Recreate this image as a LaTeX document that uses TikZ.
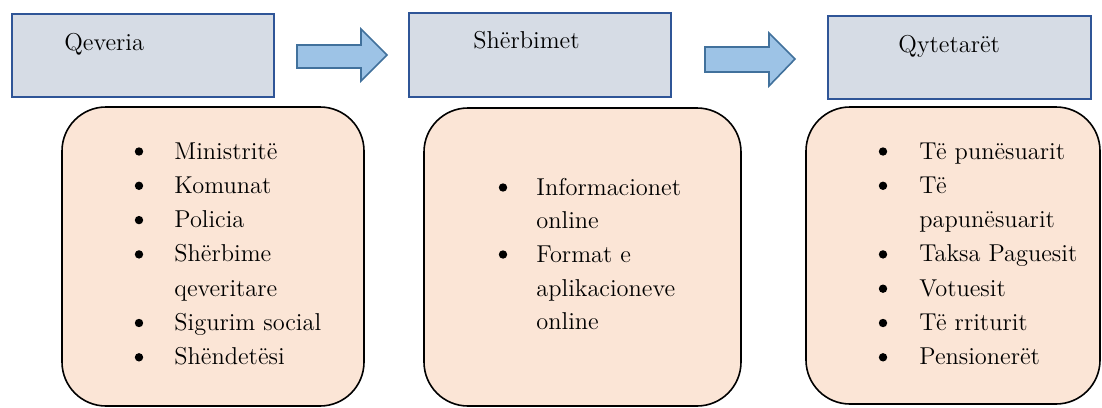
\documentclass[tikz,border=0pt]{standalone}
\definecolor{headfill}{HTML}{D6DCE5}
\definecolor{headline}{HTML}{2F5597}
\definecolor{arrowfill}{HTML}{9DC3E6}
\definecolor{arrowline}{HTML}{41719C}
\definecolor{groupfill}{HTML}{FBE5D6}
\begin{document}
\begin{tikzpicture}[x=0.5pt,y=-0.5pt,
  header/.style={draw=headline, fill=headfill, line width=1pt},
  group/.style={draw=black, fill=groupfill, line width=0.8pt, rounded corners=22pt},
  blockarrow/.style={draw=arrowline, fill=arrowfill, line width=0.8pt, line join=miter},
  lbl/.style={font=\rmfamily\fontsize{12.2}{15}\selectfont, inner sep=0pt, anchor=base west},
  dot/.style={circle, fill=black, inner sep=0pt, minimum size=4.2pt}]
\useasboundingbox (0,0) rectangle (1102,407);

% header boxes
\draw[header] (12,14) rectangle (274,97);
\draw[header] (409,13) rectangle (671,97);
\draw[header] (828,16) rectangle (1091,99);
\node[lbl] (hgov) at (64,50) {Qeveria};
\node[lbl] (hsrv) at (473,48) {Shërbimet};
\node[lbl] (hcit) at (898,52) {Qytetarët};

% block arrows between the headers
\draw[blockarrow] (297,45) -- (361,45) -- (361,29) -- (387,55) -- (361,81)
  -- (361,68) -- (297,68) -- cycle;
\draw[blockarrow] (705,47) -- (769,47) -- (769,33) -- (795,59) -- (769,86)
  -- (769,72) -- (705,72) -- cycle;

% rounded group boxes
\draw[group] (62,107) rectangle (364,406);
\draw[group] (424,108) rectangle (741,406);
\draw[group] (806,107) rectangle (1100,404);

% list entries: baseline / bullet shown / text
\foreach \y/\b/\t [count=\i] in {159/1/Ministritë, 193.3/1/Komunat, 227.6/1/Policia,
    261.9/1/Shërbime, 296.2/0/qeveritare, 330.5/1/Sigurim social, 364.8/1/Shëndetësi}{
  \node[lbl] (ga\i) at (174,\y) {\t};
  \ifnum\b=1 \node[dot] (ba\i) at (139,\y-7.5) {}; \fi
}
\foreach \y/\b/\t [count=\i] in {195/1/Informacionet, 228/0/online, 262/1/Format e,
    296/0/aplikacioneve, 329/0/online}{
  \node[lbl] (gb\i) at (536,\y) {\t};
  \ifnum\b=1 \node[dot] (bb\i) at (503,\y-7.5) {}; \fi
}
\foreach \y/\b/\t [count=\i] in {159/1/Të punësuarit, 193.3/1/Të, 227.6/0/papunësuarit,
    261.9/1/Taksa Paguesit, 296.2/1/Votuesit, 330.5/1/Të rriturit, 364.8/1/Pensionerët}{
  \node[lbl] (gc\i) at (919,\y) {\t};
  \ifnum\b=1 \node[dot] (bc\i) at (883,\y-7.5) {}; \fi
}
\end{tikzpicture}
\end{document}
